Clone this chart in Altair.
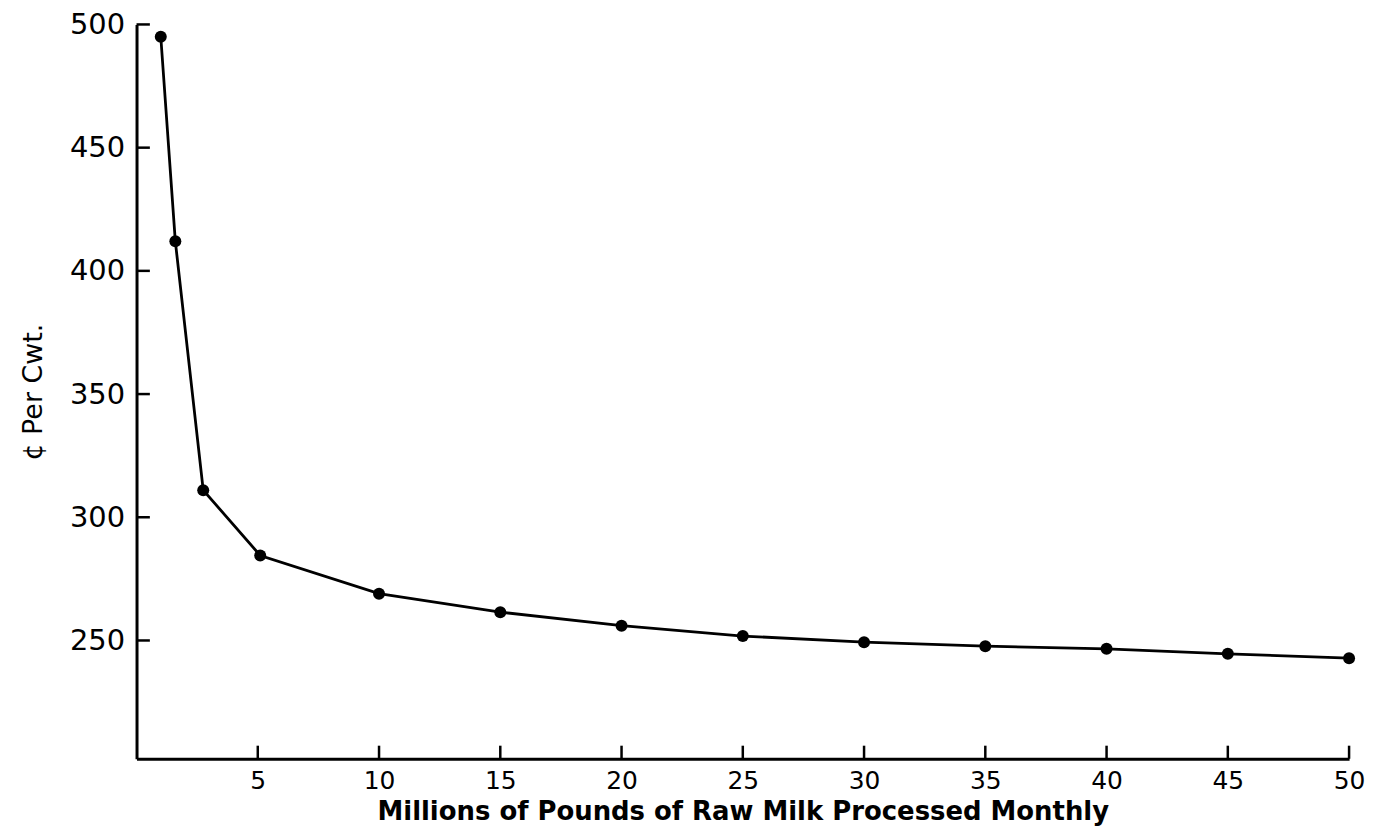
import altair as alt
import pandas as pd

# Data
x_vals = [1, 1.6, 2.75, 5.1, 10, 15, 20, 25, 30, 35, 40, 45, 50]
y_vals = [495, 412, 311, 284.5, 269, 261.5, 256, 251.8, 249.3, 247.7, 246.6, 244.6, 242.8]
x_ticks = [5, 10, 15, 20, 25, 30, 35, 40, 45, 50]
y_ticks = [250, 300, 350, 400, 450, 500]

X_DOMAIN = [0, 50]
Y_DOMAIN = [202, 500]

df = pd.DataFrame({"x": x_vals, "y": y_vals})
xt = pd.DataFrame({"x": x_ticks, "y": [Y_DOMAIN[0]] * len(x_ticks), "y2": [Y_DOMAIN[0] + 5.3] * len(x_ticks)})
yt = pd.DataFrame({"y": y_ticks, "x": [0] * len(y_ticks), "x2": [0.55] * len(y_ticks)})

FONT = "DejaVu Sans"

xscale = alt.Scale(domain=X_DOMAIN, nice=False, zero=False)
yscale = alt.Scale(domain=Y_DOMAIN, nice=False, zero=False)

x_axis = alt.Axis(
    values=x_ticks, ticks=False, grid=False, domainColor="black", domainWidth=3,
    labelFont=FONT, labelFontSize=25, labelColor="black", labelPadding=10,
    title="Millions of Pounds of Raw Milk Processed Monthly",
    titleFont=FONT, titleFontSize=26, titleFontWeight="bold", titleColor="black",
    titlePadding=5, labelFlush=False,
)
y_axis = alt.Axis(
    values=y_ticks, ticks=False, grid=False, domainColor="black", domainWidth=3,
    labelFont=FONT, labelFontSize=29, labelColor="black", labelPadding=12,
    title="¢ Per Cwt.", titleFont=FONT, titleFontSize=27, titleFontWeight="normal",
    titleColor="black", titlePadding=22, labelFlush=False,
)

line = alt.Chart(df).mark_line(color="black", strokeWidth=2.8).encode(
    x=alt.X("x:Q", scale=xscale, axis=x_axis),
    y=alt.Y("y:Q", scale=yscale, axis=y_axis),
)
pts = alt.Chart(df).mark_point(filled=True, color="black", size=145, opacity=1).encode(
    x=alt.X("x:Q", scale=xscale), y=alt.Y("y:Q", scale=yscale)
)
xtick = alt.Chart(xt).mark_rule(color="black", strokeWidth=2.5).encode(
    x=alt.X("x:Q", scale=xscale), y=alt.Y("y:Q", scale=yscale), y2="y2:Q"
)
ytick = alt.Chart(yt).mark_rule(color="black", strokeWidth=2.5).encode(
    y=alt.Y("y:Q", scale=yscale), x=alt.X("x:Q", scale=xscale), x2="x2:Q"
)

chart = (
    alt.layer(line, xtick, ytick, pts)
    .properties(
        width=1217, height=737,
        autosize=alt.AutoSizeParams(type="none"),
        padding={"left": 129, "top": 15, "right": 20, "bottom": 70},
        background="white",
    )
    .configure_view(stroke=None)
)

chart.save("out.html", embed_options={"renderer": "svg", "actions": False})
